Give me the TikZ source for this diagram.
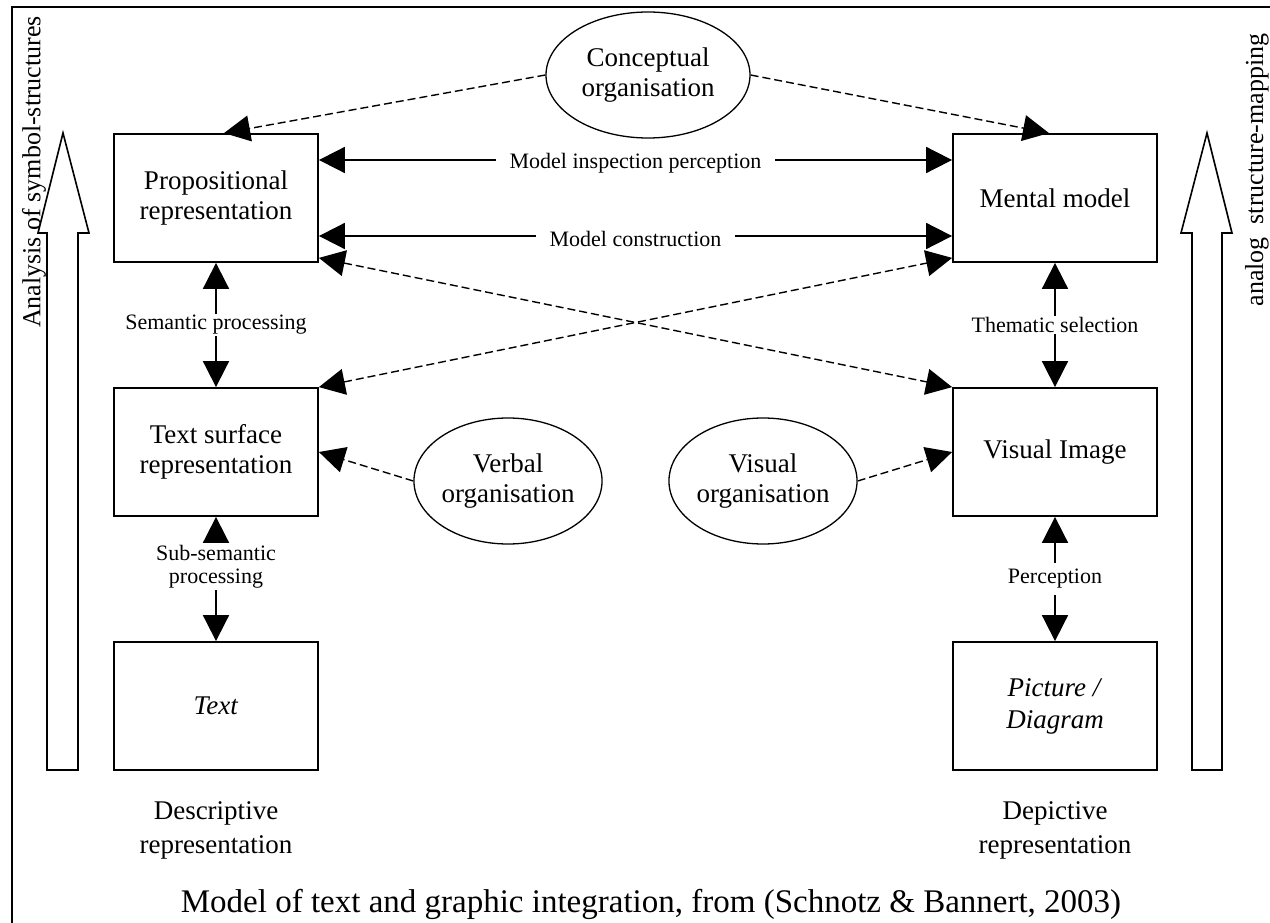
\documentclass[tikz,border=0pt]{standalone}
\usepackage{fontspec}
\setmainfont{Liberation Serif}
\usetikzlibrary{arrows.meta,shapes.geometric}
\newcommand\boxfont{\fontsize{27pt}{30pt}\selectfont}
\newcommand\reprfont{\fontsize{27pt}{34pt}\selectfont}
\newcommand\lblfont{\fontsize{22pt}{23pt}\selectfont}
\newcommand\sidefont{\fontsize{26pt}{28pt}\selectfont}
\newcommand\capfont{\fontsize{33pt}{36pt}\selectfont}
\begin{document}
\begin{tikzpicture}[x=1pt,y=-1pt,
  >={Triangle[length=26pt,width=26pt]},
  box/.style={draw,line width=1.8pt,minimum width=204pt,minimum height=128pt,
    inner sep=0pt,align=center,font=\boxfont},
  orgnode/.style={draw,ellipse,line width=1.3pt,minimum width=180pt,
    minimum height=126pt,inner sep=0pt,align=center,font=\boxfont},
  link/.style={line width=1.8pt,<->},
  dlink/.style={line width=1.4pt,dash pattern=on 8pt off 4pt,->},
  dblink/.style={line width=1.4pt,dash pattern=on 8pt off 4pt,<->},
  lbl/.style={fill=white,font=\lblfont,inner xsep=14pt,inner ysep=3pt,align=center},
  hollow/.style={draw,line width=1.6pt,fill=white}
]
\useasboundingbox (0,0) rectangle (1270,923);

% outer frame (left and top edges)
\draw[line width=2pt] (12,923) -- (12,7) -- (1270,7);

% broad hollow arrows on both sides
\draw[hollow] (47,770) -- (47,233) -- (38,233) -- (63,133) -- (89,233)
  -- (78,233) -- (78,770) -- cycle;
\draw[hollow] (1192,770) -- (1192,233) -- (1181,233) -- (1207,133) -- (1232,233)
  -- (1222,233) -- (1222,770) -- cycle;
\node[rotate=90,font=\sidefont,inner sep=0pt] (lside) at (34,172) {Analysis of symbol-structures};
\node[rotate=90,font=\sidefont,inner sep=0pt] (rside) at (1257,170) {analog\ \ structure-mapping};

% representations
\node[box] (prop) at (216,198) {Propositional\\representation};
\node[box] (mm)   at (1055,198) {Mental model};
\node[box] (ts)   at (216,452) {Text surface\\representation};
\node[box] (vi)   at (1055,452) {Visual Image};
\node[box] (txt)  at (216,706) {\textit{Text}};
\node[box,font=\fontsize{27pt}{32pt}\selectfont] (pic) at (1055,706) {\textit{Picture /}\\\textit{Diagram}};

% organisation processes
\node[orgnode,minimum width=204pt] (conc) at (648,75) {Conceptual\\organisation};
\node[orgnode] (verb) at (508,481) {Verbal\\organisation};
\node[orgnode] (vis)  at (763,481) {Visual\\organisation};

% solid processing links
\draw[link] ([yshift=38pt]prop.east) -- node[lbl,yshift=-3pt] {Model inspection perception} ([yshift=38pt]mm.west);
\draw[link] ([yshift=-38pt]prop.east) -- node[lbl,yshift=-3pt] {Model construction} ([yshift=-38pt]mm.west);
\draw[link] (prop.south) -- node[lbl,inner xsep=3pt,inner ysep=1pt] {Semantic processing} (ts.north);
\draw[link] (ts.south) -- node[lbl,pos=0.4,inner xsep=3pt,inner ysep=2pt] {Sub-semantic\\processing} (txt.north);
\draw[link] (mm.south) -- node[lbl,inner xsep=3pt,inner ysep=1pt] {Thematic selection} (vi.north);
\draw[link] (vi.south) -- node[lbl,inner xsep=3pt,inner ysep=6pt] {Perception} (pic.north);

% dashed organisation links
\draw[dlink] (conc.west) -- ([xshift=8pt]prop.north);
\draw[dlink] (conc.east) -- ([xshift=-6pt]mm.north);
\draw[dlink] (verb.west) -- (ts.east);
\draw[dlink] (vis.east) -- (vi.west);
\draw[dblink] ([yshift=5pt]prop.south east) -- (vi.north west);
\draw[dblink] (ts.north east) -- ([yshift=5pt]mm.south west);

% bottom labels
\node[font=\reprfont,align=center] (descr) at (216,830) {Descriptive\\representation};
\node[font=\reprfont,align=center] (depic) at (1055,830) {Depictive\\representation};
\node[font=\capfont] (caption) at (651,904) {Model of text and graphic integration, from (Schnotz \& Bannert, 2003)};
\end{tikzpicture}
\end{document}
